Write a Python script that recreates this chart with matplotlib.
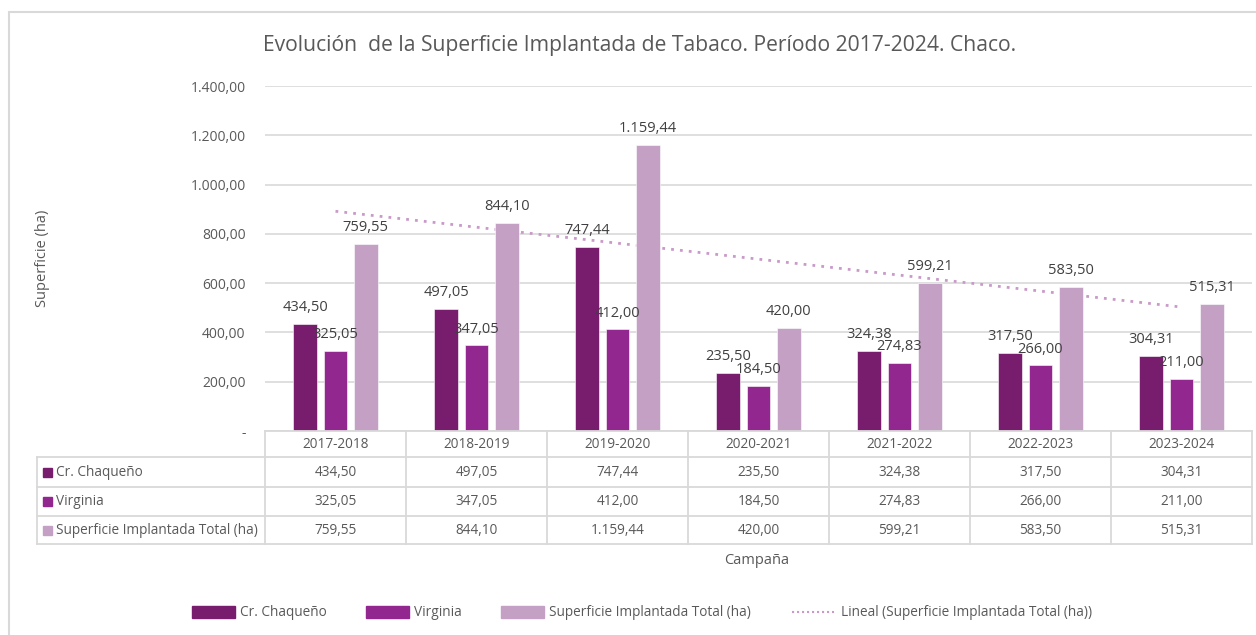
import numpy as np
import matplotlib
matplotlib.use("Agg")
import matplotlib.pyplot as plt
from matplotlib.lines import Line2D
from matplotlib.patches import Rectangle
from matplotlib.transforms import blended_transform_factory

campaigns = ["2017-2018", "2018-2019", "2019-2020", "2020-2021", "2021-2022", "2022-2023", "2023-2024"]
cr_chaqueno = [434.50, 497.05, 747.44, 235.50, 324.38, 317.50, 304.31]
virginia = [325.05, 347.05, 412.00, 184.50, 274.83, 266.00, 211.00]
total = [759.55, 844.10, 1159.44, 420.00, 599.21, 583.50, 515.31]
series_names = ["Cr. Chaqueño", "Virginia", "Superficie Implantada Total (ha)"]
trend_name = "Lineal (Superficie Implantada Total (ha))"
title = "Evolución  de la Superficie Implantada de Tabaco. Período 2017-2024. Chaco."
ylabel = "Superficie (ha)"
xlabel = "Campaña"
yticks = [0, 200, 400, 600, 800, 1000, 1200, 1400]

colors = ["#781C6E", "#92278F", "#C4A0C4"]
trend_color = "#C99AC9"
txt = "#595959"
grid = "#D9D9D9"

plt.rcParams['font.family'] = ['Open Sans', 'DejaVu Sans']

W, H = 1256, 635
fig = plt.figure(figsize=(W / 100, H / 100), dpi=100)

def fx(px):
    return px / W

def fy(py):
    return 1 - py / H

ax_l, ax_r, ax_t, ax_b = 265, 1252, 86, 431
ax = fig.add_axes([fx(ax_l), fy(ax_b), fx(ax_r - ax_l), (ax_b - ax_t) / H])

def fmt(v):
    s = f"{v:,.2f}"
    return s.replace(",", "X").replace(".", ",").replace("X", ".")

x = np.arange(len(campaigns))
off = 0.215
bw = 0.17
series = [cr_chaqueno, virginia, total]
for k, (vals, c) in enumerate(zip(series, colors)):
    xs = x + (k - 1) * off
    ax.bar(xs, vals, width=bw, color=c, zorder=3, edgecolor="white", linewidth=0.4)
    for xi, v in zip(xs, vals):
        ax.text(xi, v + 36, fmt(v), ha="center", va="bottom", fontsize=10.5, color="#404040", zorder=5)

# linear trend of total (Excel-style, over category positions)
coef = np.polyfit(x + 1, total, 1)
tx = np.array([x[0], x[-1]], dtype=float)
ty = np.polyval(coef, tx + 1)
ax.plot(tx, ty, linestyle=(0, (1, 2.2)), color=trend_color, linewidth=2, zorder=2)

ax.set_xlim(-0.5, len(campaigns) - 0.5)
ax.set_ylim(0, 1400)
ax.set_yticks(yticks)
ax.set_yticklabels(["-" if v == 0 else fmt(v) for v in yticks], fontsize=10, color=txt)
ax.tick_params(axis="y", length=0, pad=14)
ax.set_xticks([])
ax.grid(axis="y", color=grid, linewidth=1.2, zorder=0)
for s in ax.spines.values():
    s.set_visible(False)

# title and axis labels
fig.text(fx(640), fy(45), title, ha="center", va="center", fontsize=15.2, color=txt)
fig.text(fx(42), fy(258), ylabel, rotation=90, ha="center", va="center", fontsize=10.5, color=txt)
fig.text(fx(757), fy(560), xlabel, ha="center", va="center", fontsize=10.5, color=txt)

# data table
bt = blended_transform_factory(ax.transData, fig.transFigure)
rows_y = [431, 457, 487, 516, 544]
left_px = 37
lc = grid
lw = 1.3
fig.add_artist(Line2D([fx(ax_l), fx(ax_r)], [fy(431)] * 2, color=lc, lw=lw))
for ry in rows_y[1:]:
    fig.add_artist(Line2D([fx(left_px), fx(ax_r)], [fy(ry)] * 2, color=lc, lw=lw))
fig.add_artist(Line2D([fx(left_px)] * 2, [fy(457), fy(544)], color=lc, lw=lw))
for b in np.arange(-0.5, len(campaigns), 1.0):
    fig.add_artist(Line2D([b, b], [fy(431), fy(544)], color=lc, lw=lw, transform=bt))

tfs = 9.8
for i, c in enumerate(campaigns):
    fig.text(i, fy(444), c, transform=bt, ha="center", va="center", fontsize=tfs, color=txt)
    for r, vals in enumerate(series):
        cy = (rows_y[r + 1] + rows_y[r + 2]) / 2
        fig.text(i, fy(cy), fmt(vals[i]), transform=bt, ha="center", va="center", fontsize=tfs, color=txt)

for r, (name, c) in enumerate(zip(series_names, colors)):
    cy = (rows_y[r + 1] + rows_y[r + 2]) / 2
    fig.add_artist(Rectangle((fx(43), fy(cy + 4.5)), fx(9), 9 / H, color=c, transform=fig.transFigure))
    fig.text(fx(56), fy(cy), name, ha="left", va="center", fontsize=tfs, color=txt)

# legend (manual placement)
ly = 612
box_x = [192, 366, 501]
for bx, c, name in zip(box_x, colors, series_names):
    fig.add_artist(Rectangle((fx(bx), fy(ly + 6)), fx(43), 12 / H, color=c, transform=fig.transFigure))
    fig.text(fx(bx + 48), fy(ly), name, ha="left", va="center", fontsize=tfs, color=txt)
fig.add_artist(Line2D([fx(792), fx(834)], [fy(ly)] * 2, color=trend_color, linestyle=(0, (1, 1.4)), lw=1.5))
fig.text(fx(841), fy(ly), trend_name, ha="left", va="center", fontsize=tfs, color=txt)

# outer border
fig.add_artist(Rectangle((fx(9), fy(H + 5)), fx(W + 10), (H + 5 - 12) / H, fill=False, edgecolor=grid, lw=1.5,
                         transform=fig.transFigure))

fig.savefig("out.png", dpi=100)
